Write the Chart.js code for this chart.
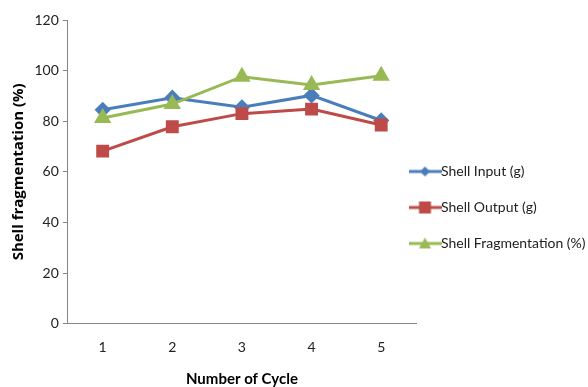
<!DOCTYPE html>
<html>
<head>
<meta charset="utf-8">
<script src="https://cdn.jsdelivr.net/npm/chart.js@4"></script>
<style>
  html, body { margin: 0; padding: 0; background: #fff; }
  #wrap { width: 588px; height: 387px; }
</style>
</head>
<body>
<div id="wrap"><canvas id="myChart"></canvas></div>
<script>
// data
const cycles = ['1', '2', '3', '4', '5'];
const shellInput = [84.5, 89.3, 85.5, 90.2, 80.3];
const shellOutput = [68.2, 77.8, 83.0, 84.8, 78.5];
const shellFragmentation = [81.3, 86.8, 97.6, 94.3, 98.0];
const yTicks = [0, 20, 40, 60, 80, 100, 120];

const FONT = 'Lato';
const blue = '#4a7ebb';
const red = '#be4b48';
const green = '#98b954';

// legend symbol: a short line with the marker in the middle
function legendSymbol(color, style) {
  const c = document.createElement('canvas');
  c.width = 33;
  c.height = 14;
  const g = c.getContext('2d');
  g.strokeStyle = color;
  g.lineWidth = 3;
  g.beginPath();
  g.moveTo(0, 7);
  g.lineTo(33, 7);
  g.stroke();
  g.fillStyle = color;
  g.beginPath();
  if (style === 'rectRot') {
    g.moveTo(16.5, 2); g.lineTo(21.5, 7); g.lineTo(16.5, 12); g.lineTo(11.5, 7);
  } else if (style === 'rect') {
    g.rect(10.5, 1, 12, 12);
  } else {
    g.moveTo(16.5, 1); g.lineTo(22.5, 12); g.lineTo(10.5, 12);
  }
  g.closePath();
  g.fill();
  return c;
}

// nudge the legend so it sits where the original one is
// (only the left edge moves, the right edge is the clip box)
const legendNudge = {
  id: 'legendNudge',
  afterLayout(chart) {
    const lg = chart.legend;
    lg.left -= 22;
    lg.top += 4; lg.bottom += 4;
  }
};

const ctx = document.getElementById('myChart').getContext('2d');
new Chart(ctx, {
  type: 'line',
  data: {
    labels: cycles,
    datasets: [{
      label: 'Shell Input (g)',
      data: shellInput,
      borderColor: blue,
      backgroundColor: blue,
      borderWidth: 3,
      pointStyle: 'rectRot',
      pointRadius: 6,
      order: 2,
      legendSymbol: legendSymbol(blue, 'rectRot')
    }, {
      label: 'Shell Output (g)',
      data: shellOutput,
      borderColor: red,
      backgroundColor: red,
      borderWidth: 3,
      pointStyle: 'rect',
      pointRadius: 7,
      order: 1,
      legendSymbol: legendSymbol(red, 'rect')
    }, {
      label: 'Shell Fragmentation (%)',
      data: shellFragmentation,
      borderColor: green,
      backgroundColor: green,
      borderWidth: 3,
      pointStyle: 'triangle',
      pointRadius: 7,
      order: 0,
      legendSymbol: legendSymbol(green, 'triangle')
    }]
  },
  plugins: [legendNudge],
  options: {
    responsive: true,
    maintainAspectRatio: false,
    animation: false,
    layout: { padding: { top: 20, right: 0, left: 6, bottom: 0 } },
    plugins: {
      tooltip: { enabled: false },
      legend: {
        position: 'right',
        maxWidth: 172,
        labels: {
          font: { family: FONT, size: 14 },
          color: '#222',
          usePointStyle: true,
          pointStyleWidth: 18,
          padding: 22,
          sort: (a, b) => a.datasetIndex - b.datasetIndex,
          generateLabels: (chart) => chart.data.datasets.map((ds, i) => ({
            text: ds.label,
            datasetIndex: i,
            pointStyle: ds.legendSymbol,
            fillStyle: ds.borderColor,
            strokeStyle: ds.borderColor,
            lineWidth: 0,
            fontColor: '#222'
          }))
        }
      }
    },
    scales: {
      x: {
        offset: true,
        grid: { display: false, drawTicks: false },
        border: { color: '#868686', width: 1 },
        ticks: { font: { family: FONT, size: 14 }, color: '#222', padding: 15 },
        title: {
          display: true,
          text: 'Number of Cycle',
          font: { family: FONT, size: 15, weight: 'bold', lineHeight: 1.1 },
          color: '#000',
          padding: { top: 0, bottom: 0 }
        }
      },
      y: {
        min: 0,
        max: 120,
        afterBuildTicks: (axis) => { axis.ticks = yTicks.map(v => ({ value: v })); },
        grid: { display: true, drawOnChartArea: false, drawTicks: true, tickLength: 5, color: '#868686' },
        border: { color: '#868686', width: 1 },
        ticks: { font: { family: FONT, size: 14 }, color: '#222', padding: 4 },
        title: {
          display: true,
          text: 'Shell fragmentation (%)',
          font: { family: 'Open Sans', size: 15, weight: 'bold', lineHeight: 1.1 },
          color: '#000',
          padding: { top: 4, bottom: 4 }
        }
      }
    }
  }
});
</script>
</body>
</html>
